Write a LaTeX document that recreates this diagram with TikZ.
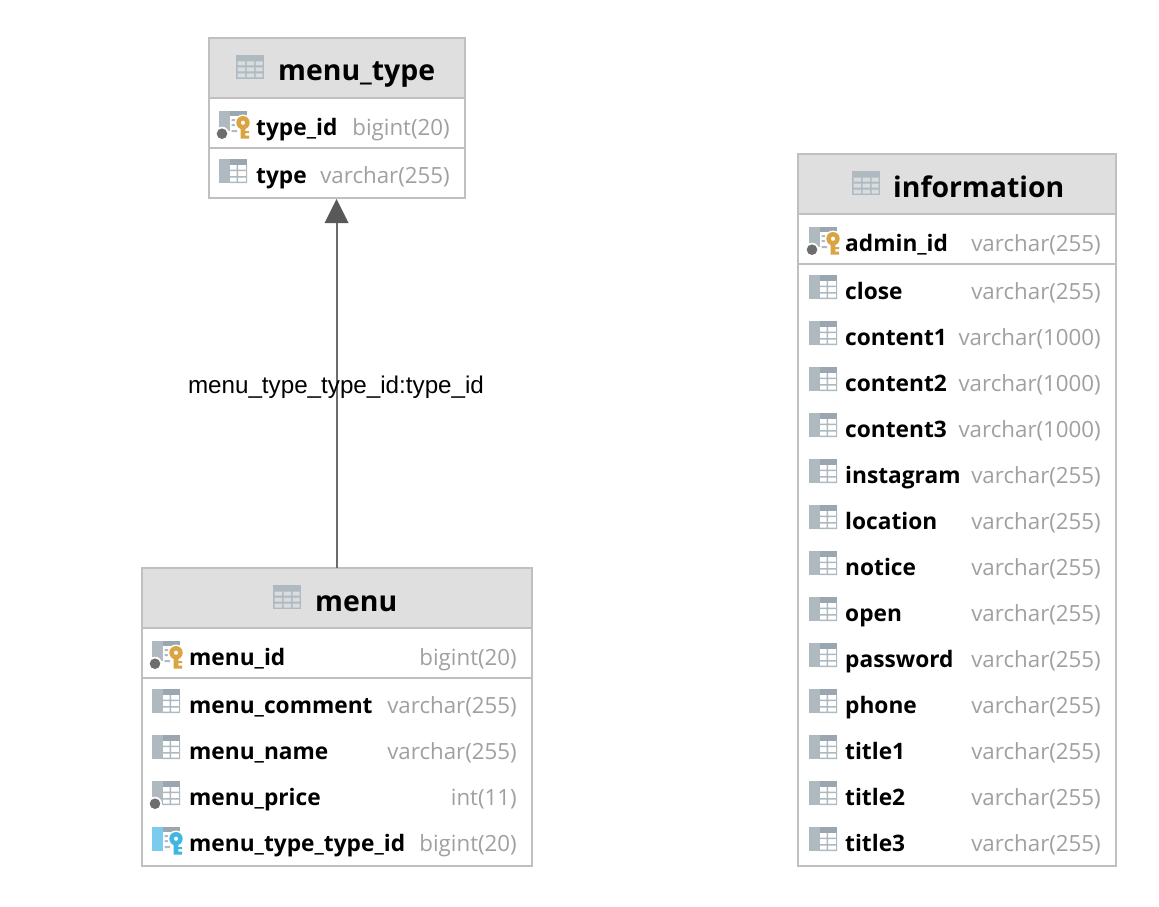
\documentclass[tikz,border=0pt]{standalone}
\usepackage{fontspec}
\setmainfont{Open Sans}
\newfontfamily\arialf{Liberation Sans}
\definecolor{iconA}{HTML}{AEB9C0}
\definecolor{iconB}{HTML}{9AA7B0}
\definecolor{iconC}{HTML}{DADDDF}
\definecolor{keyGold}{HTML}{D9A441}
\definecolor{keyBlue}{HTML}{40B6E0}
\definecolor{blockBlue}{HTML}{7BCBEE}
\definecolor{dotGrey}{HTML}{6E6E6E}
\definecolor{typeGrey}{HTML}{A0A0A0}
\definecolor{headFill}{HTML}{DFDFDF}
\definecolor{edgeBorder}{HTML}{C0C0C0}
\tikzset{
  tablebox/.style={draw=edgeBorder,line width=2pt,fill=white,inner sep=0pt,outer sep=0pt,anchor=north west},
  headbox/.style={draw=edgeBorder,line width=2pt,fill=headFill,inner sep=0pt,outer sep=0pt,anchor=north west},
  titletext/.style={anchor=base west,inner sep=0pt,font=\fontsize{28.4}{32}\selectfont\bfseries,text=black},
  nametext/.style={anchor=base west,inner sep=0pt,font=\fontsize{22.7}{28}\selectfont\bfseries,text=black},
  typetext/.style={anchor=base east,inner sep=0pt,font=\fontsize{22.3}{28}\selectfont,text=typeGrey},
  rowline/.style={draw=edgeBorder,line width=2pt},
  fkedge/.style={draw=black!58,line width=2pt},
  edgelabel/.style={inner sep=0pt,anchor=base,font=\arialf\fontsize{24.2}{28}\selectfont,text=black},
  pics/tableicon/.style={code={
    \fill[iconA] (0,0) rectangle (28,24);
    \fill[iconC] (1.5,6.5) rectangle (9,10.5) (10.5,6.5) rectangle (18,10.5) (19.5,6.5) rectangle (26.5,10.5)
       (1.5,12.5) rectangle (9,16.5) (10.5,12.5) rectangle (18,16.5) (19.5,12.5) rectangle (26.5,16.5)
       (1.5,18.5) rectangle (9,22.5) (10.5,18.5) rectangle (18,22.5) (19.5,18.5) rectangle (26.5,22.5);
  }},
  pics/columnicon/.style={code={
    \fill[iconA] (0,0) rectangle (11,24);
    \fill[iconB] (11,0) rectangle (28,6);
    \fill[iconB!80!white] (17.5,6) rectangle (19,24) (11,10.7) rectangle (28,12.2) (11,17) rectangle (28,18.5) (11,22.5) rectangle (28,24) (27,6) rectangle (28,24);
  }},
  pics/nullicon/.style={code={
    \fill[iconA] (0,0) rectangle (11,24);
    \fill[iconB] (11,0) rectangle (28,6);
    \fill[iconB!80!white] (17.5,6) rectangle (19,24) (11,10.7) rectangle (28,12.2) (11,17) rectangle (28,18.5) (11,22.5) rectangle (28,24) (27,6) rectangle (28,24);
    \fill[white] (3,22.7) circle (7);
    \fill[dotGrey] (3,22.7) circle (5.3);
  }},
}
\newcommand{\keyshape}[1]{%
  \fill[white] (24,12) circle (8.5) (18.5,14) rectangle (31,29);
  \fill[#1,even odd rule] (24,11.7) circle (6.7) (24,11.7) circle (2.2);
  \fill[#1] (21.7,16) rectangle (26.3,27.5) (26.3,20) rectangle (30,22) (26.3,24.5) rectangle (30,27.5);}
\newcommand{\pkicon}[2]{%
  \begin{scope}[shift={(#1,#2)}]
    \fill[iconA] (0,0) rectangle (11,20);
    \fill[iconB] (11,0) rectangle (28,5);
    \fill[iconB!80!white] (12.5,8) rectangle (18,10) (12.5,13) rectangle (17,15) (12.5,19) rectangle (18,21);
    \fill[white] (3,22.7) circle (7);
    \fill[dotGrey] (3,22.7) circle (5.3);
    \keyshape{keyGold}
  \end{scope}}
\newcommand{\fkicon}[2]{%
  \begin{scope}[shift={(#1,#2)}]
    \fill[blockBlue] (0,0) rectangle (11,24);
    \fill[iconB] (11,0) rectangle (28,5);
    \fill[iconB!80!white] (12.5,8) rectangle (18,10) (12.5,13) rectangle (17,15) (12.5,19) rectangle (18,21);
    \keyshape{keyBlue}
  \end{scope}}
% id, baseline y, icon left x, name x, type right x, name, type
\newcommand{\colrow}[7]{%
  \pgfmathsetmacro{\icontop}{#2-24}%
  \path (#3,\icontop) pic {columnicon};
  \node[nametext] (n#1) at (#4,#2) {#6};
  \node[typetext] (t#1) at (#5,#2) {#7};}
\begin{document}
\begin{tikzpicture}[x=1pt,y=-1pt]
\useasboundingbox (0,0) rectangle (1159,907);
% menu_type
\node[tablebox,minimum width=256pt,minimum height=160pt] (menutype) at (209,38) {};
\node[headbox,minimum width=256pt,minimum height=60pt] (menutypehead) at (209,38) {};
\draw[rowline] (209,148) -- (465,148);
\path (236,55) pic {tableicon};
\node[titletext] (menutypetitle) at (278,81) {menu\_type};
\pkicon{219}{111}
\node[nametext] (ntypeid) at (256,135) {type\_id};
\node[typetext] (ttypeid) at (450,135) {bigint(20)};
\colrow{type}{183}{219}{256}{450}{type}{varchar(255)}
% menu
\node[tablebox,minimum width=390pt,minimum height=298pt] (menu) at (142,568) {};
\node[headbox,minimum width=390pt,minimum height=60pt] (menuhead) at (142,568) {};
\draw[rowline] (142,678) -- (532,678);
\path (273,585) pic {tableicon};
\node[titletext] (menutitle) at (315,611) {menu};
\pkicon{152}{641}
\node[nametext] (nmenuid) at (189,665) {menu\_id};
\node[typetext] (tmenuid) at (517,665) {bigint(20)};
\colrow{mc}{713}{152}{189}{517}{menu\_comment}{varchar(255)}
\colrow{mn}{759}{152}{189}{517}{menu\_name}{varchar(255)}
\path (152,781) pic {nullicon};
\node[nametext] (nmp) at (189,805) {menu\_price};
\node[typetext] (tmp) at (517,805) {int(11)};
\fkicon{152}{827}
\node[nametext] (nmt) at (189,851) {menu\_type\_type\_id};
\node[typetext] (tmt) at (517,851) {bigint(20)};
% information
\node[tablebox,minimum width=318pt,minimum height=712pt] (information) at (798,154) {};
\node[headbox,minimum width=318pt,minimum height=60pt] (informationhead) at (798,154) {};
\draw[rowline] (798,264) -- (1116,264);
\path (852,171) pic {tableicon};
\node[titletext] (informationtitle) at (893,197) {information};
\pkicon{809}{227}
\node[nametext] (nadmin) at (845,251) {admin\_id};
\node[typetext] (tadmin) at (1101,251) {varchar(255)};
\colrow{i1}{299}{809}{845}{1101}{close}{varchar(255)}
\colrow{i2}{345}{809}{845}{1101}{content1}{varchar(1000)}
\colrow{i3}{391}{809}{845}{1101}{content2}{varchar(1000)}
\colrow{i4}{437}{809}{845}{1101}{content3}{varchar(1000)}
\colrow{i5}{483}{809}{845}{1101}{instagram}{varchar(255)}
\colrow{i6}{529}{809}{845}{1101}{location}{varchar(255)}
\colrow{i7}{575}{809}{845}{1101}{notice}{varchar(255)}
\colrow{i8}{621}{809}{845}{1101}{open}{varchar(255)}
\colrow{i9}{667}{809}{845}{1101}{password}{varchar(255)}
\colrow{i10}{713}{809}{845}{1101}{phone}{varchar(255)}
\colrow{i11}{759}{809}{845}{1101}{title1}{varchar(255)}
\colrow{i12}{805}{809}{845}{1101}{title2}{varchar(255)}
\colrow{i13}{851}{809}{845}{1101}{title3}{varchar(255)}
% connector
\coordinate (tip) at ([xshift=-0.5pt,yshift=-1pt]menutype.south);
\draw[fkedge] ([xshift=-0.5pt]menu.north) -- ([yshift=-22pt]tip);
\fill[black!65] (tip) -- ++(12,24) -- ++(-24,0) -- cycle;
\node[edgelabel] (fklabel) at (336,393) {menu\_type\_type\_id:type\_id};
\end{tikzpicture}
\end{document}
